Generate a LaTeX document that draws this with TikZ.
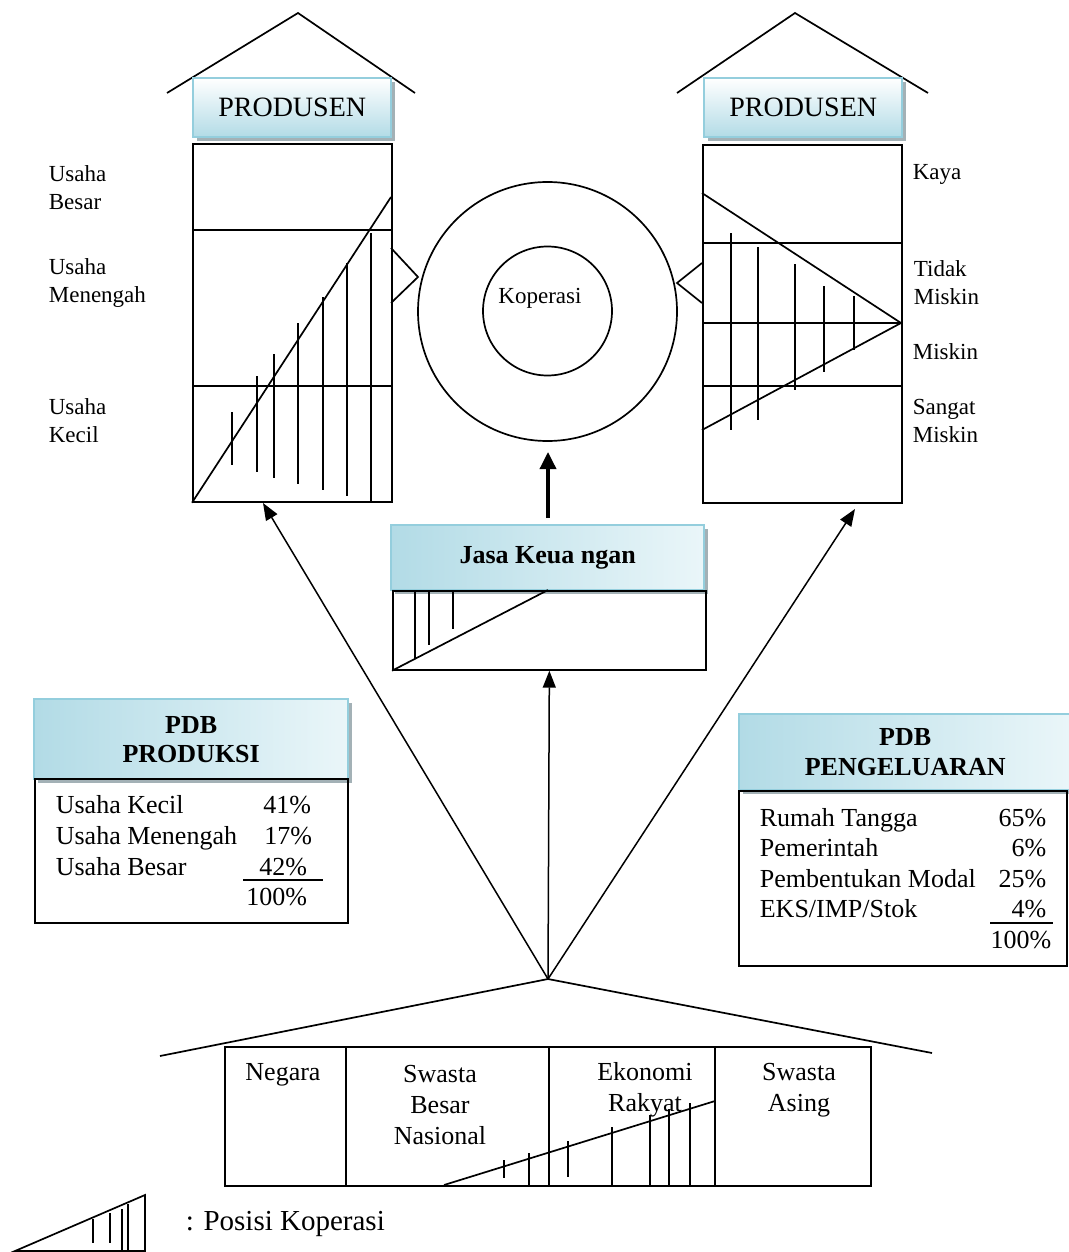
\documentclass[tikz,border=0pt]{standalone}
\usepackage{fontspec}
\setmainfont{Liberation Serif}
\usetikzlibrary{arrows.meta,shadows,calc}
\definecolor{hdrblue}{HTML}{B2DBE6}
\definecolor{hdrlight}{HTML}{EAF6F9}
\definecolor{hdrborder}{HTML}{94CEDD}
\definecolor{shadowc}{HTML}{A3B1B6}
\begin{document}
\begin{tikzpicture}[x=1pt,y=-1pt,line width=1.7pt,
  hdr/.style={draw=hdrborder,line width=2.4pt,anchor=north west,inner sep=0pt,align=center,
    general shadow={fill=shadowc,shadow xshift=4pt,shadow yshift=-4pt}},
  vgrad/.style={top color=white,bottom color=hdrblue},
  hgrad/.style={left color=hdrblue,right color=hdrlight},
  boxn/.style={draw,anchor=north west,inner sep=0pt},
  lbl/.style={inner sep=0pt,align=left,font=\fontsize{23}{28}\selectfont},
  tbl/.style={inner sep=0pt,font=\fontsize{26}{30}\selectfont},
  btxt/.style={inner sep=0pt,align=center,font=\fontsize{26}{31}\selectfont},
  arr/.style={line width=1.5pt,-{Triangle[length=17pt,width=13pt]}},
  thickarr/.style={line width=3.5pt,-{Triangle[length=17pt,width=16pt]}}]
\useasboundingbox (0,0) rectangle (1068,1252);

% ---------- left house ----------
\coordinate (lroofL) at (167,93);
\coordinate (lroofT) at (298,13);
\coordinate (lroofR) at (415,93);
\draw (lroofL) -- (lroofT) -- (lroofR);
\node[hdr,vgrad,minimum width=198pt,minimum height=59pt,font=\fontsize{28}{32}\selectfont] (lh) at (192,77) {PRODUSEN};
\node[boxn,minimum width=199pt,minimum height=358pt] (lc) at (192,143) {};
\draw (192,230) -- (391,230);
\draw (192,386) -- (391,386);
\draw (lc.south west) -- (391,197);
\foreach \x/\a/\b in {232/412/465,257/376/472,274/354/478,298/323/484,323/297/490,347/263/496,371/233/501}
  \draw (\x,\a) -- (\x,\b);
\draw (391,248) -- (418,277) -- (391,303);

\node[lbl,anchor=west] (lb1) at (48,188) {Usaha\\Besar};
\node[lbl,anchor=west] (lb2) at (48,283) {Usaha\\Menengah};
\node[lbl,anchor=west] (lb3) at (48,421) {Usaha\\Kecil};

% ---------- right house ----------
\coordinate (rroofL) at (677,93);
\coordinate (rroofT) at (795,13);
\coordinate (rroofR) at (928,93);
\draw (rroofL) -- (rroofT) -- (rroofR);
\node[hdr,vgrad,minimum width=198pt,minimum height=59pt,font=\fontsize{28}{32}\selectfont] (rh) at (703,77) {PRODUSEN};
\node[boxn,minimum width=199pt,minimum height=358pt] (rc) at (702,144) {};
\draw (702,243) -- (901,243);
\draw (702,323) -- (901,323);
\draw (702,386) -- (901,386);
\draw (702,193) -- (901,323) -- (702,430);
\foreach \x/\a/\b in {731/233/430,758/247/420,795/264/390,824/286/372,854/296/350}
  \draw (\x,\a) -- (\x,\b);
\draw (702,263) -- (677,283) -- (702,303);

\node[lbl,anchor=west] (rb1) at (912,174) {Kaya};
\node[lbl,anchor=west] (rb2) at (913,283) {Tidak\\Miskin};
\node[lbl,anchor=west] (rb3) at (912,352) {Miskin};
\node[lbl,anchor=west] (rb4) at (912,421) {Sangat\\Miskin};

% ---------- koperasi circles ----------
\node[circle,draw,minimum size=259pt,inner sep=0pt] (outer) at (547.5,311.5) {};
\node[circle,draw,minimum size=129pt,inner sep=0pt] (inner) at (547.5,311) {};
\node[inner sep=0pt,font=\fontsize{23}{28}\selectfont] (kop) at (540,298) {Koperasi};

% ---------- jasa keuangan ----------
\node[hdr,hgrad,minimum width=313pt,minimum height=65pt,font=\fontsize{26}{30}\selectfont\bfseries] (jh) at (390,524) {Jasa Keua ngan};
\node[boxn,minimum width=313pt,minimum height=79pt] (jb) at (392,590) {};
\draw (jb.south west) -- (548,590);
\foreach \x/\b in {415/659,429/645,453/629}
  \draw (\x,590) -- (\x,\b);
\coordinate (thickstart) at (548,518);
\draw[thickarr] (thickstart) -- (548,452);

% ---------- PDB produksi ----------
\node[hdr,hgrad,minimum width=314pt,minimum height=80pt,font=\fontsize{26}{29}\selectfont\bfseries] (ph) at (33,698) {PDB\\PRODUKSI};
\node[boxn,minimum width=313pt,minimum height=144pt] (pt) at (34,778) {};
\node[tbl,anchor=base west] (p1) at (55,813) {Usaha Kecil};
\node[tbl,anchor=base west] (p2) at (55,844) {Usaha Menengah};
\node[tbl,anchor=base west] (p3) at (55,875) {Usaha Besar};
\node[tbl,anchor=base east] (p1v) at (312,813) {41\%};
\node[tbl,anchor=base east] (p2v) at (313,844) {17\%};
\node[tbl,anchor=base east] (p3v) at (308,875) {42\%};
\node[tbl,anchor=base east] (p4v) at (308,905) {100\%};
\draw (243,880) -- (323,880);

% ---------- PDB pengeluaran ----------
\node[hdr,hgrad,minimum width=332pt,minimum height=76pt,font=\fontsize{26}{30}\selectfont\bfseries] (eh) at (738,713) {PDB\\PENGELUARAN};
\node[boxn,minimum width=328pt,minimum height=175pt] (et) at (738,790) {};
\node[tbl,anchor=base west] (e1) at (759,826) {Rumah Tangga};
\node[tbl,anchor=base west] (e2) at (759,856) {Pemerintah};
\node[tbl,anchor=base west] (e3) at (759,887) {Pembentukan Modal};
\node[tbl,anchor=base west] (e4) at (759,917) {EKS/IMP/Stok};
\node[tbl,anchor=base east] (e1v) at (1047,826) {65\%};
\node[tbl,anchor=base east] (e2v) at (1047,856) {6\%};
\node[tbl,anchor=base east] (e3v) at (1047,887) {25\%};
\node[tbl,anchor=base east] (e4v) at (1047,917) {4\%};
\node[tbl,anchor=base east] (e5v) at (1052,948) {100\%};
\draw (990,923) -- (1053,923);

% ---------- bottom house ----------
\coordinate (conv) at (548,979);
\coordinate (broofL) at (160,1056);
\coordinate (broofR) at (932,1053);
\draw (broofL) -- (conv) -- (broofR);
\node[boxn,minimum width=646pt,minimum height=139pt] (bb) at (224,1046) {};
\draw (346,1046) -- (346,1185);
\draw (549,1046) -- (549,1185);
\draw (715,1046) -- (715,1185);
\draw (444,1185) -- (715,1101);
\foreach \x/\a/\b in {504/1160/1178,529/1153/1185,568/1141/1177,612/1127/1185,650/1115/1186,669/1109/1186,690/1103/1185}
  \draw[line width=1.4pt] (\x,\a) -- (\x,\b);
\node[btxt] (n1) at (283,1075) {Negara};
\node[btxt] (n2) at (440,1105) {Swasta\\Besar\\Nasional};
\node[btxt] (n3) at (645,1090) {Ekonomi\\Rakyat};
\node[btxt] (n4) at (799,1090) {Swasta\\Asing};

% ---------- arrows ----------
\coordinate (ltip) at (263,503);
\coordinate (rtip) at (855,509);
\draw[arr] (conv) -- (ltip);
\draw[arr] (conv) -- (jb.south);
\draw[arr] (conv) -- (rtip);

% ---------- legend ----------
\draw (145,1195) -- (15,1251) -- (145,1251) -- cycle;
\foreach \x/\a/\b in {93/1219/1243,110/1213/1243,122/1209/1250,128/1204/1250}
  \draw[line width=1.4pt] (\x,\a) -- (\x,\b);
\node[inner sep=0pt,anchor=base west,font=\fontsize{29}{33}\selectfont] (leg) at (185,1230) {: Posisi Koperasi};
\end{tikzpicture}
\end{document}
